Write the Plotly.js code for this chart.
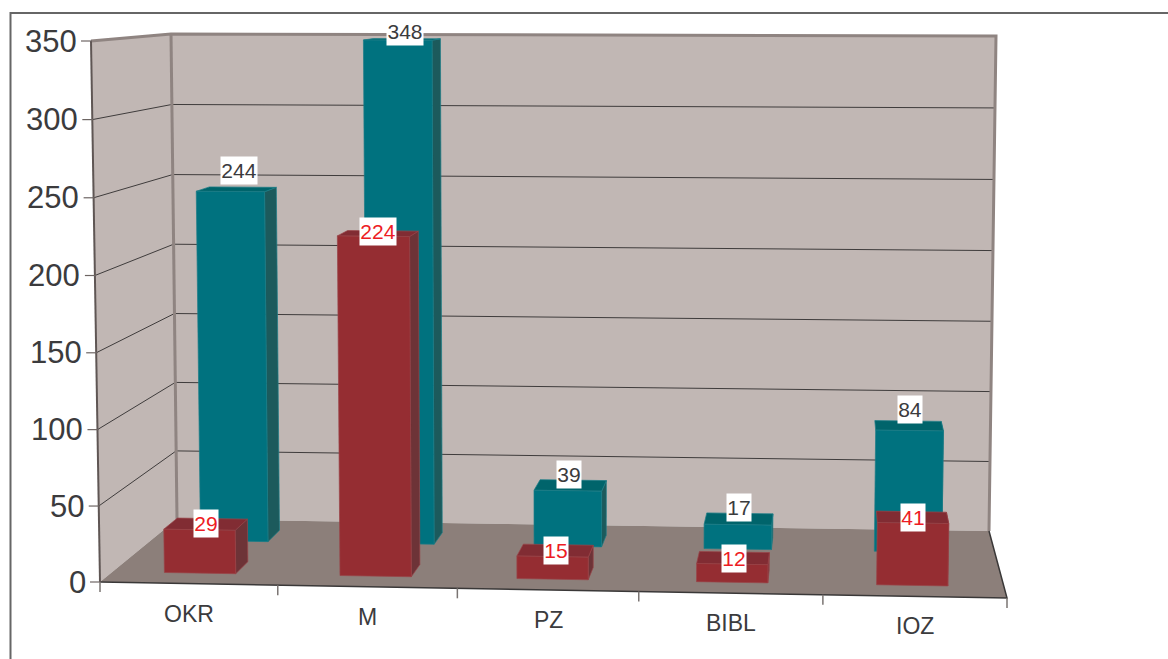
<!DOCTYPE html>
<html>
<head>
<meta charset="utf-8">
<script src="https://cdn.plot.ly/plotly-3.0.1.min.js"></script>
<style>html,body{margin:0;padding:0;background:#fff}#chart{width:1168px;height:659px}</style>
</head>
<body>
<div id="chart"></div>
<script>
// ---- data ----
const categories = ['OKR', 'M', 'PZ', 'BIBL', 'IOZ'];
const backSeries = [244, 348, 39, 17, 84];
const frontSeries = [29, 224, 15, 12, 41];
const valueTicks = [0, 50, 100, 150, 200, 250, 300, 350];

// ---- projection of the 3-D box (u along categories, d depth, v value) ----
const VMAX = 350;
const corners = {
  f0l: [100, 582], ftl: [91, 41], f0r: [1007, 598], ftr: [1016, 46],
  b0l: [177, 519], btl: [171, 34], b0r: [989, 531], btr: [996, 36]
};
const mix = (a, b, t) => [a[0] + (b[0] - a[0]) * t, a[1] + (b[1] - a[1]) * t];
function P(u, d, v) {
  const s = v / VMAX, t = s * (0.98 + 0.02 * s);
  const fl = mix(corners.f0l, corners.ftl, t), fr = mix(corners.f0r, corners.ftr, t);
  const bl = mix(corners.b0l, corners.btl, t), br = mix(corners.b0r, corners.btr, t);
  return mix(mix(fl, fr, u), mix(bl, br, u), d);
}
const traces = [];
function poly(pts, fill, line, w) {
  const closed = pts.concat([pts[0]]);
  traces.push({
    type: 'scatter', mode: 'lines', x: closed.map(p => p[0]), y: closed.map(p => p[1]),
    fill: 'toself', fillcolor: fill, line: {color: line, width: w === undefined ? 0.7 : w},
    hoverinfo: 'skip', showlegend: false
  });
}
function seg(pts, color, w) {
  traces.push({
    type: 'scatter', mode: 'lines', x: pts.map(p => p[0]), y: pts.map(p => p[1]),
    line: {color: color, width: w}, hoverinfo: 'skip', showlegend: false
  });
}
// walls and floor
const WALL = '#c1b7b4', FLOOR = '#8c7f7a', EDGE = '#8f8481', GRID = '#3f3c3c';
poly([P(0,0,0), P(0,0,VMAX), P(0,1,VMAX), P(0,1,0)], WALL, WALL, 0);
poly([P(0,1,0), P(0,1,VMAX), P(1,1,VMAX), P(1,1,0)], WALL, WALL, 0);
poly([P(0,0,0), P(1,0,0), P(1,1,0), P(0,1,0)], FLOOR, FLOOR, 0);
valueTicks.filter(v => v > 0 && v < VMAX).forEach(v => {
  seg([P(0,0,v), P(0,1,v), P(1,1,v)], GRID, 1);
});
seg([P(0,0,VMAX), P(0,1,VMAX), P(1,1,VMAX), P(1,1,0)], EDGE, 3);
seg([P(0,1,VMAX), P(0,1,0)], EDGE, 3);
seg([P(0,0,VMAX), P(0,0,0)], '#5f5654', 2);
seg([P(0,0,0), P(1,0,0), P(1,1,0)], '#3a3838', 1.5);

// ticks
valueTicks.forEach(v => {
  const p = P(0,0,v);
  seg([[p[0] - 10, p[1]], [p[0] + 1, p[1]]], '#6d6563', 1.2);
});
const catTickU = [0, 0.196, 0.394, 0.594, 0.797, 1];
catTickU.forEach(u => {
  const p = P(u,0,0);
  seg([[p[0], p[1]], [p[0], p[1] + 10]], '#7a7472', 1.5);
});

// bars
const barStartU = [0.058, 0.255, 0.4535, 0.655, 0.857], BAR_W = 0.08;
function box(i, d0, d1, v, c) {
  const u0 = barStartU[i], u1 = u0 + BAR_W;
  poly([P(u1,d0,0), P(u1,d1,0), P(u1,d1,v), P(u1,d0,v)], c.side, c.edge);
  poly([P(u0,d0,v), P(u1,d0,v), P(u1,d1,v), P(u0,d1,v)], c.top, c.edge);
  poly([P(u0,d0,0), P(u1,d0,0), P(u1,d0,v), P(u0,d0,v)], c.front, c.edge);
}
const TEAL = {front: '#00727f', top: '#00646b', side: '#1c5a5c', edge: '#1b7c87'};
const RED = {front: '#952d32', top: '#812c33', side: '#6d3337', edge: '#9a4448'};
backSeries.forEach((v, i) => box(i, 0.67, 0.85, v, TEAL));
frontSeries.forEach((v, i) => box(i, 0.165, 0.355, v, RED));

// text
const annotations = [];
const TXT = '#3b3b3d', FONT = '"Liberation Sans", Arial, sans-serif';
valueTicks.forEach(v => {
  const p = P(0,0,v);
  annotations.push({x: p[0] - 12.5, y: p[1], xref: 'x', yref: 'y', xanchor: 'right', yanchor: 'middle',
    text: String(v), showarrow: false, font: {family: FONT, size: 31, color: TXT}});
});
const catLabelU = [0.098, 0.295, 0.495, 0.696, 0.899];
categories.forEach((c, i) => {
  const p = P(catLabelU[i],0,0);
  annotations.push({x: p[0], y: p[1] + 30, xref: 'x', yref: 'y', xanchor: 'center', yanchor: 'middle',
    text: c, showarrow: false, font: {family: FONT, size: 23, color: TXT}});
});
const backLabelOffset = [[9, -21], [7, -9], [1, -16], [1, -17], [0, -21]];
const frontLabelOffset = [[6, -6], [5, -5], [3, -6], [2, -6], [0, -6]];
function dataLabel(i, v, d, off, color) {
  const u = barStartU[i] + BAR_W / 2;
  const p = P(u, d, v);
  annotations.push({x: p[0] + off[0], y: p[1] + off[1], xref: 'x', yref: 'y', xanchor: 'center', yanchor: 'middle',
    text: String(v), showarrow: false, bgcolor: '#ffffff', borderpad: 0,
    width: String(v).length > 2 ? 36 : 24, height: 27,
    font: {family: FONT, size: 21, color: color}});
}
backSeries.forEach((v, i) => dataLabel(i, v, 0.67, backLabelOffset[i], TXT));
frontSeries.forEach((v, i) => dataLabel(i, v, 0.165, frontLabelOffset[i], '#ed1c24'));

// frame
seg([[10.5, 659], [10.5, 13], [1168, 13]], '#666666', 2);

Plotly.newPlot('chart', traces, {
  width: 1168, height: 659, margin: {l: 0, r: 0, t: 0, b: 0},
  paper_bgcolor: '#ffffff', plot_bgcolor: '#ffffff', showlegend: false,
  xaxis: {range: [0, 1168], visible: false, fixedrange: true},
  yaxis: {range: [659, 0], visible: false, fixedrange: true},
  annotations: annotations
}, {displayModeBar: false, staticPlot: true});
</script>
</body>
</html>
